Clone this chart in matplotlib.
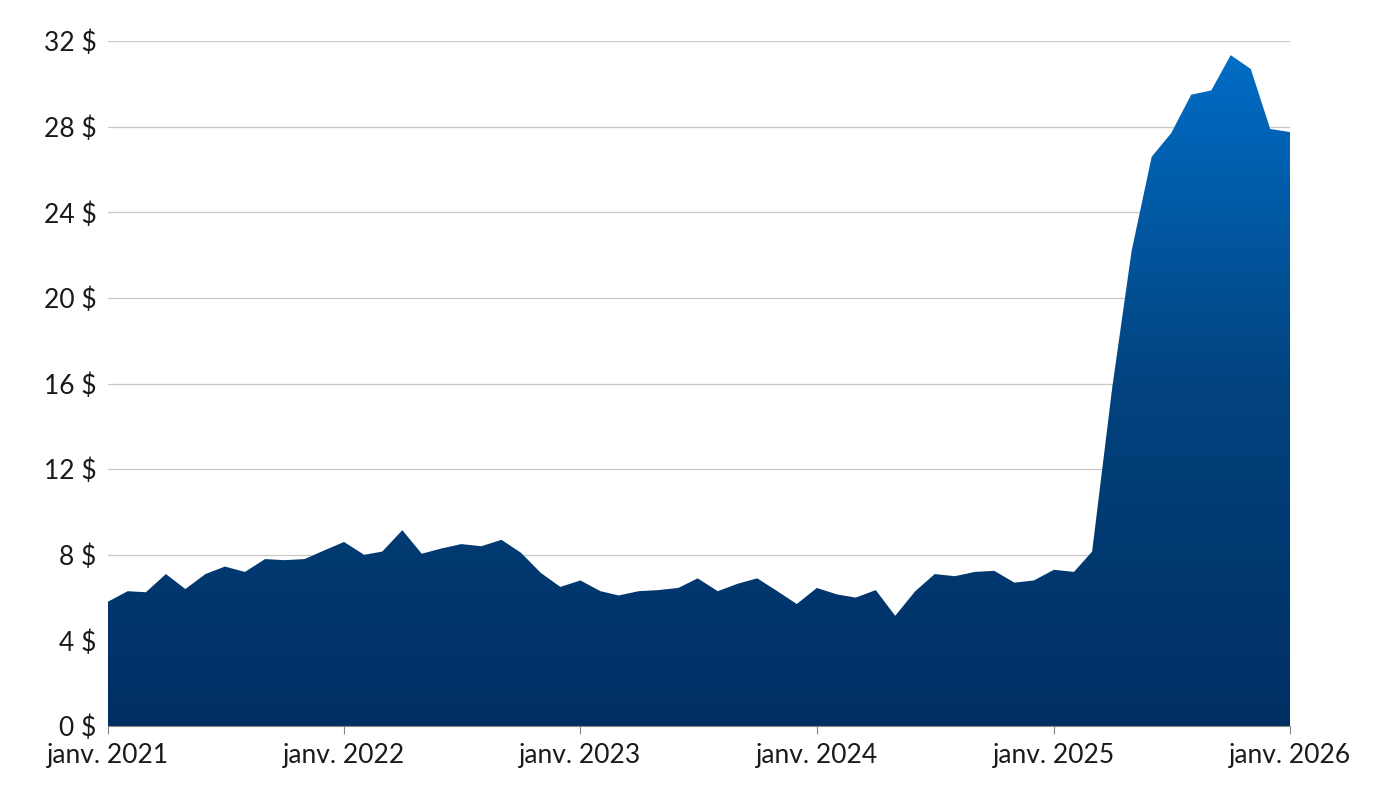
import numpy as np
import matplotlib
matplotlib.use("Agg")
import matplotlib.pyplot as plt
import matplotlib.dates as mdates
import pandas as pd
from matplotlib.colors import LinearSegmentedColormap

plt.rcParams['font.family'] = ['Lato', 'DejaVu Sans']

# monthly prices, Jan 2021 .. Jan 2026
dates = pd.date_range("2021-01-01", "2026-01-01", freq="MS")
prices = [5.8, 6.3, 6.25, 7.1, 6.4, 7.1, 7.45, 7.2, 7.8, 7.75, 7.8, 8.2,
          8.6, 8.0, 8.15, 9.15, 8.05, 8.3, 8.5, 8.4, 8.7, 8.1, 7.15, 6.5,
          6.8, 6.3, 6.1, 6.3, 6.35, 6.45, 6.9, 6.3, 6.65, 6.9, 6.3, 5.7,
          6.45, 6.15, 6.0, 6.35, 5.15, 6.3, 7.1, 7.0, 7.2, 7.25, 6.7, 6.8,
          7.3, 7.2, 8.15, 15.8, 22.2, 26.6, 27.7, 29.5, 29.7, 31.35, 30.7, 27.9,
          27.75]
yticks = [0, 4, 8, 12, 16, 20, 24, 28, 32]
xtick_years = [2021, 2022, 2023, 2024, 2025, 2026]

fig = plt.figure(figsize=(13.8, 8), dpi=100)
ax = fig.add_axes([0.078, 0.0925, 0.857, 0.856])

x = mdates.date2num(dates)
y = np.array(prices)

for t in yticks[1:]:
    ax.axhline(t, color="#c8c8c8", lw=0.9, zorder=0)

fill = ax.fill_between(x, 0, y, color="none", lw=0)
cmap = LinearSegmentedColormap.from_list("g", ["#002f63", "#02437f", "#006fc9"])
grad = np.linspace(0, 1, 256).reshape(-1, 1)
im = ax.imshow(grad, cmap=cmap, origin="lower", aspect="auto",
               extent=[x[0], x[-1], 0, 32], zorder=1)
path = fill.get_paths()[0]
im.set_clip_path(path, transform=ax.transData)

ax.set_xlim(x[0], x[-1])
ax.set_ylim(0, 32)
ax.set_yticks(yticks)
ax.set_yticklabels([f"{t} $" for t in yticks])
xt = [mdates.date2num(pd.Timestamp(f"{yr}-01-01")) for yr in xtick_years]
ax.set_xticks(xt)
ax.set_xticklabels([f"janv. {yr}" for yr in xtick_years])
ax.tick_params(axis="y", length=0, labelsize=19, colors="#1a1a1a", pad=8)
ax.tick_params(axis="x", length=6, color="#888888", labelsize=19,
               colors="#1a1a1a", pad=6)
for s in ["top", "right", "left"]:
    ax.spines[s].set_visible(False)
ax.spines["bottom"].set_color("#888888")
ax.spines["bottom"].set_zorder(3)

fig.savefig("out.png", dpi=100)
